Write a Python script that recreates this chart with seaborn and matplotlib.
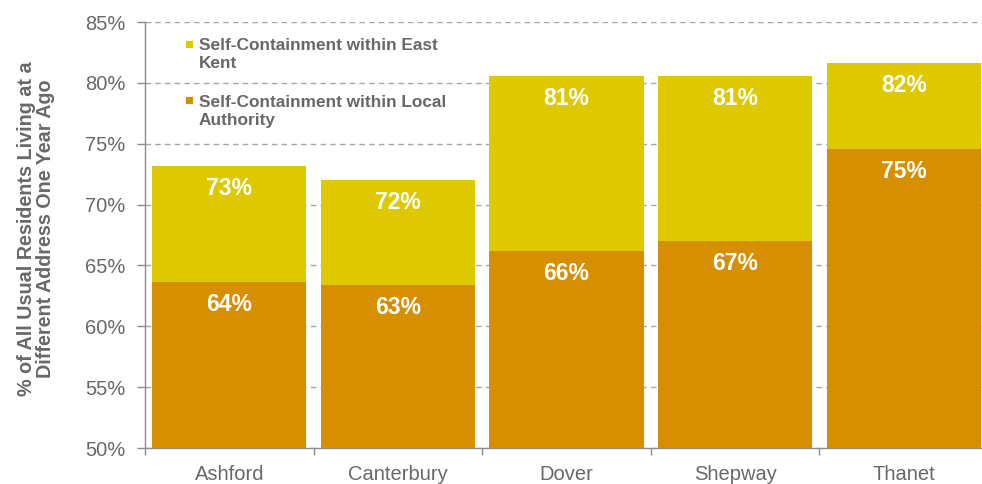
import matplotlib
matplotlib.use("Agg")
import matplotlib.pyplot as plt
from matplotlib.patches import Rectangle
import pandas as pd
import seaborn as sns

# Data
districts = ["Ashford", "Canterbury", "Dover", "Shepway", "Thanet"]
east_kent = [73.2, 72.0, 80.6, 80.6, 81.6]
local_authority = [63.6, 63.4, 66.2, 67.0, 74.6]
series_names = ["Self-Containment within East\nKent",
                "Self-Containment within Local\nAuthority"]
y_ticks = [50, 55, 60, 65, 70, 75, 80, 85]

YELLOW = "#DEC800"
ORANGE = "#D68F00"
GREY_TEXT = "#686868"
GREY_LINE = "#8c8c8c"

df = pd.DataFrame({
    "district": districts * 2,
    "value": east_kent + local_authority,
    "measure": [series_names[0]] * len(districts) + [series_names[1]] * len(districts),
})

sns.set_theme(style="white")
plt.rcParams["font.family"] = ["Liberation Sans", "DejaVu Sans"]

fig = plt.figure(figsize=(9.82, 4.84), dpi=100)
W, H = 982, 484
ax = fig.add_axes([145 / W, 36 / H, 843 / W, 426 / H])

# Overlapping bars: the local-authority share is drawn over the East Kent share
sns.barplot(data=df, x="district", y="value", hue="measure", dodge=False,
            palette=[YELLOW, ORANGE], width=0.915, saturation=1,
            legend=False, ax=ax, zorder=3, linewidth=0, edgecolor="none")

ax.set_ylim(50, 85)
ax.set_xlim(-0.5, len(districts) - 0.5)
ax.set_yticks(y_ticks)
ax.set_yticklabels([f"{t}%" for t in y_ticks])
ax.yaxis.grid(True, linestyle=(0, (4, 3)), color="#a6a6a6", linewidth=1, zorder=0)
ax.set_axisbelow(True)

for side in ["top", "right"]:
    ax.spines[side].set_visible(False)
for side in ["left", "bottom"]:
    ax.spines[side].set_color(GREY_LINE)
    ax.spines[side].set_linewidth(1)

ax.tick_params(axis="y", which="major", length=6, width=1, color=GREY_LINE,
               labelsize=14.5, labelcolor=GREY_TEXT, pad=8, direction="out", left=True)
ax.tick_params(axis="x", which="major", length=0, labelsize=14.5,
               labelcolor=GREY_TEXT, pad=12)
ax.set_xticks(range(len(districts)), districts, minor=False)
ax.set_xticks([i - 0.5 for i in range(len(districts) + 1)], minor=True)
ax.tick_params(axis="x", which="minor", length=5, width=1, color=GREY_LINE,
               direction="out", bottom=True)

ax.set_xlabel("")
ax.set_ylabel("% of All Usual Residents Living at a\nDifferent Address One Year Ago",
              fontsize=14.2, fontweight="bold", color=GREY_TEXT, linespacing=1.0)
ax.yaxis.set_label_coords(-(145 - 55) / 843, (448 - 229) / 426)

# Value labels inside the top of each bar
for container, values in zip(ax.containers, [east_kent, local_authority]):
    for bar, v in zip(container, values):
        ax.annotate(f"{v:.0f}%", (bar.get_x() + bar.get_width() / 2, v),
                    xytext=(0, -16.2), textcoords="offset points",
                    ha="center", va="center", color="white",
                    fontsize=16.5, fontweight="bold", zorder=5)

# Legend with the swatch beside the first line of each label
def px_to_ax(px, py):
    return (px - 145) / 843, (448 - py) / 426

for (sw_top, last_base), name, col in zip([(41, 68), (97, 125)], series_names,
                                           [YELLOW, ORANGE]):
    x0, y0 = px_to_ax(186, sw_top + 7)
    ax.add_patch(Rectangle((x0, y0), 7 / 843, 7 / 426, transform=ax.transAxes,
                           facecolor=col, edgecolor="none", clip_on=False, zorder=6))
    tx, ty = px_to_ax(199, last_base)
    ax.text(tx, ty, name, transform=ax.transAxes, ha="left", va="baseline",
            fontsize=12.4, fontweight="bold", color=GREY_TEXT, linespacing=1.25,
            zorder=6)

fig.savefig("out.png", dpi=100)
